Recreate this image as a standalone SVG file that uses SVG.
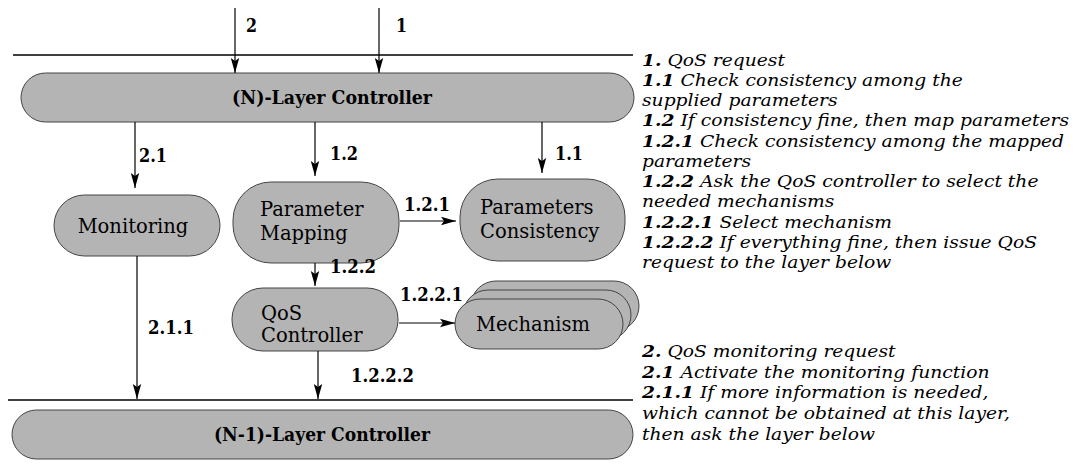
<svg xmlns="http://www.w3.org/2000/svg" width="1076" height="468" viewBox="0 0 1076 468">
<defs>
<marker id="ah" markerWidth="16" markerHeight="10" refX="15" refY="5" orient="auto" markerUnits="userSpaceOnUse">
<path d="M0,0.8 L15,5 L0,9.2 L3,5 Z" fill="#000"/>
</marker>
<style>
.node{fill:#b4b4b4;stroke:#444;stroke-width:1}
.t{font-size:19.5px;fill:#000}
.tb{font-size:19px;font-weight:bold;fill:#000}
.lbl{font-size:18px;font-weight:bold;fill:#000}
.leg{font-size:17px;font-style:italic;fill:#000}
.n{font-weight:bold}
.c{stroke:#000;stroke-width:1.2;fill:none;marker-end:url(#ah)}
.ln{stroke:#000;stroke-width:1.3}
</style>
</defs>
<rect width="1076" height="468" fill="#fff"/>
<g id="layer-lines">
<line class="ln" x1="13" y1="55" x2="633" y2="55"/>
<line class="ln" x1="8" y1="400" x2="633" y2="400"/>
</g>
<g font-family="DejaVu Serif, serif">
<g id="n-layer">
<rect class="node" x="21" y="73" width="613" height="49" rx="24.5"/>
<text class="tb" x="332" y="104" text-anchor="middle" textLength="200" lengthAdjust="spacingAndGlyphs">(N)-Layer Controller</text>
</g>
<g id="monitoring">
<rect class="node" x="54" y="195" width="166" height="61" rx="30.5"/>
<text class="t" x="133" y="233" text-anchor="middle">Monitoring</text>
</g>
<g id="parameter-mapping">
<rect class="node" x="233" y="182" width="166" height="81" rx="38"/>
<text class="t" x="260" y="216">Parameter</text>
<text class="t" x="260" y="240">Mapping</text>
</g>
<g id="parameters-consistency">
<rect class="node" x="460" y="179" width="165" height="82" rx="38"/>
<text class="t" x="480" y="214">Parameters</text>
<text class="t" x="480" y="238">Consistency</text>
</g>
<g id="qos-controller">
<rect class="node" x="232" y="288" width="166" height="63" rx="31"/>
<text class="t" x="261" y="320">QoS</text>
<text class="t" x="261" y="342">Controller</text>
</g>
<g id="mechanism">
<rect class="node" x="471" y="281" width="168" height="50" rx="25"/>
<rect class="node" x="463" y="290" width="168" height="50" rx="25"/>
<rect class="node" x="455" y="299" width="168" height="50" rx="25"/>
<text class="t" x="533" y="331" text-anchor="middle">Mechanism</text>
</g>
<g id="n-1-layer">
<rect class="node" x="12" y="410" width="621" height="49" rx="24.5"/>
<text class="tb" x="322" y="441" text-anchor="middle" textLength="216" lengthAdjust="spacingAndGlyphs">(N-1)-Layer Controller</text>
</g>
<g id="connectors">
<line class="c" x1="235" y1="8" x2="235" y2="73"/>
<line class="c" x1="379" y1="8" x2="379" y2="73"/>
<line class="c" x1="135" y1="122" x2="135" y2="188"/>
<line class="c" x1="315" y1="122" x2="315" y2="176"/>
<line class="c" x1="542" y1="122" x2="542" y2="173"/>
<line class="c" x1="400" y1="221" x2="456" y2="221"/>
<line class="c" x1="315" y1="263" x2="315" y2="286"/>
<line class="c" x1="399" y1="323" x2="455" y2="323"/>
<line class="c" x1="137" y1="256" x2="137" y2="399"/>
<line class="c" x1="318" y1="351" x2="318" y2="399"/>
<text class="lbl" x="246" y="32" textLength="11" lengthAdjust="spacingAndGlyphs">2</text>
<text class="lbl" x="396" y="32" textLength="11" lengthAdjust="spacingAndGlyphs">1</text>
<text class="lbl" x="139" y="162" textLength="28" lengthAdjust="spacingAndGlyphs">2.1</text>
<text class="lbl" x="330" y="160" textLength="28" lengthAdjust="spacingAndGlyphs">1.2</text>
<text class="lbl" x="555" y="160" textLength="28" lengthAdjust="spacingAndGlyphs">1.1</text>
<text class="lbl" x="404" y="211" textLength="46" lengthAdjust="spacingAndGlyphs">1.2.1</text>
<text class="lbl" x="330" y="273" textLength="46" lengthAdjust="spacingAndGlyphs">1.2.2</text>
<text class="lbl" x="400" y="301" textLength="63" lengthAdjust="spacingAndGlyphs">1.2.2.1</text>
<text class="lbl" x="148" y="334" textLength="46" lengthAdjust="spacingAndGlyphs">2.1.1</text>
<text class="lbl" x="351" y="382" textLength="63" lengthAdjust="spacingAndGlyphs">1.2.2.2</text>
</g>
</g>
<g id="legend" font-family="DejaVu Serif, serif" transform="translate(642,0) scale(1.1,1)">
<text class="leg" x="0" y="66"><tspan class="n">1.</tspan> QoS request</text>
<text class="leg" x="0" y="86"><tspan class="n">1.1</tspan> Check consistency among the</text>
<text class="leg" x="0" y="106">supplied parameters</text>
<text class="leg" x="0" y="126"><tspan class="n">1.2</tspan> If consistency fine, then map parameters</text>
<text class="leg" x="0" y="147"><tspan class="n">1.2.1</tspan> Check consistency among the mapped</text>
<text class="leg" x="0" y="167">parameters</text>
<text class="leg" x="0" y="187"><tspan class="n">1.2.2</tspan> Ask the QoS controller to select the</text>
<text class="leg" x="0" y="207">needed mechanisms</text>
<text class="leg" x="0" y="228"><tspan class="n">1.2.2.1</tspan> Select mechanism</text>
<text class="leg" x="0" y="248"><tspan class="n">1.2.2.2</tspan> If everything fine, then issue QoS</text>
<text class="leg" x="0" y="268">request to the layer below</text>
<text class="leg" x="0" y="357"><tspan class="n">2.</tspan> QoS monitoring request</text>
<text class="leg" x="0" y="378"><tspan class="n">2.1</tspan> Activate the monitoring function</text>
<text class="leg" x="0" y="398"><tspan class="n">2.1.1</tspan> If more information is needed,</text>
<text class="leg" x="0" y="419">which cannot be obtained at this layer,</text>
<text class="leg" x="0" y="440">then ask the layer below</text>
</g>
</svg>
